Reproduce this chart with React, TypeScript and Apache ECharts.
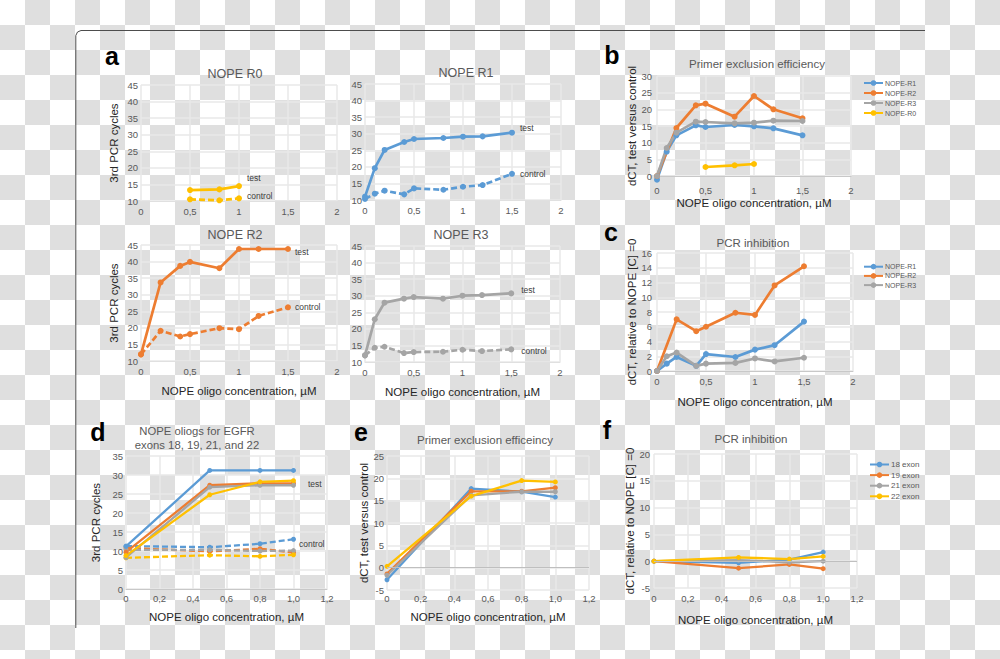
import React, { useEffect, useRef } from 'react';
import * as echarts from 'echarts';

// ---------- data ----------
const xR0 = [0.5, 0.8, 1.0];
const xR1 = [0, 0.1, 0.2, 0.4, 0.5, 0.8, 1.0, 1.2, 1.5];
const xR2 = [0, 0.2, 0.4, 0.5, 0.8, 1.0, 1.2, 1.5];
const xR3 = [0, 0.1, 0.2, 0.4, 0.5, 0.8, 1.0, 1.2, 1.5];
const xExon = [0, 0.5, 0.8, 1.0];

const r0Test = [13.3, 13.5, 14.5];
const r0Control = [10.5, 10.2, 10.8];
const r1Test = [11.0, 19.6, 25.1, 27.5, 28.4, 28.7, 29.1, 29.2, 30.3];
const r1Control = [10.3, 11.9, 12.8, 11.7, 13.5, 13.1, 14.0, 14.5, 17.9];
const r2Test = [12.0, 33.7, 38.7, 39.9, 38.0, 43.8, 43.8, 43.8];
const r2Control = [12.0, 19.1, 17.4, 18.1, 19.9, 19.6, 23.6, 26.2];
const r3Test = [12.0, 22.9, 27.9, 29.1, 29.6, 29.1, 30.0, 30.2, 30.7];
const r3Control = [12.0, 14.3, 14.6, 12.7, 13.0, 13.1, 13.7, 13.3, 13.8];

const bR1 = [-1.1, 7.3, 12.2, 15.2, 14.7, 15.3, 14.9, 14.3, 12.2];
const bR2 = [0, 14.4, 21.2, 21.7, 17.8, 24.0, 20.0, 17.3];
const bR3 = [0, 8.4, 13.0, 16.3, 16.2, 15.8, 16.0, 16.6, 16.5];
const bR0 = [2.7, 3.2, 3.6];

const cR1 = [0, 1.0, 1.9, 0.7, 2.3, 1.9, 2.9, 3.5, 6.7];
const cR2 = [0, 7.0, 5.4, 6.0, 7.9, 7.6, 11.6, 14.2];
const cR3 = [0, 2.0, 2.5, 0.7, 1.0, 1.1, 1.7, 1.3, 1.8];

const dTest18 = [11.2, 31.2, 31.2, 31.2];
const dTest19 = [9.7, 27.3, 27.8, 27.8];
const dTest21 = [8.3, 26.8, 27.3, 27.3];
const dTest22 = [8.8, 24.8, 28.2, 28.5];
const dCtrl18 = [11.3, 11.0, 11.9, 13.1];
const dCtrl19 = [10.8, 9.9, 10.6, 9.6];
const dCtrl21 = [10.3, 10.3, 10.0, 10.1];
const dCtrl22 = [8.2, 8.9, 8.6, 9.0];

const e18 = [-2.7, 17.7, 17.0, 15.8];
const e19 = [-1.4, 17.1, 17.1, 17.9];
const e21 = [-1.7, 16.2, 17.0, 17.0];
const e22 = [0.3, 16.0, 19.5, 19.2];

const f18 = [0, -0.3, 0.3, 1.7];
const f19 = [0, -1.3, -0.6, -1.4];
const f21 = [0, 0.2, -0.2, 0];
const f22 = [0, 0.7, 0.4, 0.9];

const nopeNames = ['NOPE-R1', 'NOPE-R2', 'NOPE-R3', 'NOPE-R0'];
const exonNames = ['18 exon', '19 exon', '21 exon', '22 exon'];
const xName = 'NOPE oligo concentration, \u00b5M';

// ---------- style ----------
const BLUE = '#5B9BD5';
const ORANGE = '#ED7D31';
const GRAY = '#A5A5A5';
const YELLOW = '#FFC000';
const FONT = '"Liberation Sans", Arial, sans-serif';
const GRID_STYLE = { color: '#e9e9e9', width: 1.5 };
const TICK = '#595959';

const grids = [
  { left: 141, top: 85, width: 196, height: 116 }, // R0
  { left: 365, top: 84, width: 196, height: 116 }, // R1
  { left: 141, top: 245, width: 196, height: 116 }, // R2
  { left: 365, top: 246, width: 195, height: 116 }, // R3
  { left: 657, top: 76, width: 194, height: 100 }, // b
  { left: 657, top: 253, width: 196, height: 118 }, // c
  { left: 126, top: 456, width: 201, height: 133 }, // d
  { left: 387, top: 456, width: 202, height: 134 }, // e
  { left: 654, top: 454, width: 203, height: 134 }, // f
];

const fmtR = (v: number) => String(v).replace('.', ',');
const fmtE = (v: number) => (v === 0 ? '0' : v.toFixed(1).replace('.', ','));

function xAxisCfg(i: number, kind: 'R' | 'E', margin: number, name?: string, nameGap?: number, lineColor = '#c8c8c8', lineShow = true) {
  return {
    type: 'value',
    gridIndex: i,
    min: 0,
    max: kind === 'R' ? 2 : 1.2,
    interval: kind === 'R' ? 0.5 : 0.2,
    axisLine: { show: lineShow, onZero: lineShow, lineStyle: { color: lineColor, width: 1 } },
    axisTick: { show: false },
    splitLine: { show: true, lineStyle: GRID_STYLE },
    axisLabel: { fontSize: 9.5, color: TICK, margin, fontFamily: FONT, formatter: kind === 'R' ? fmtR : fmtE },
    name: name || '',
    nameLocation: 'middle',
    nameGap: nameGap || 0,
    nameTextStyle: { fontSize: 11.5, color: '#262626', fontFamily: FONT },
  };
}

function yAxisCfg(i: number, min: number, max: number, interval: number, margin: number, name?: string, nameGap?: number) {
  return {
    type: 'value',
    gridIndex: i,
    min,
    max,
    interval,
    axisLine: { show: false },
    axisTick: { show: false },
    splitLine: { show: true, lineStyle: GRID_STYLE },
    axisLabel: { fontSize: 9.5, color: TICK, margin, fontFamily: FONT },
    name: name || '',
    nameLocation: 'middle',
    nameGap: nameGap || 0,
    nameTextStyle: { fontSize: 11.5, color: '#262626', fontFamily: FONT },
  };
}

function line(
  i: number,
  name: string,
  xs: number[],
  ys: number[],
  color: string,
  opts: { dashed?: boolean; endText?: string; offset?: number[]; distance?: number; width?: number; size?: number; extra?: any } = {}
) {
  const pts: any[] = xs.map((x, k) => [x, ys[k]]);
  if (opts.endText) {
    const last = pts.length - 1;
    pts[last] = {
      value: pts[last],
      label: {
        show: true,
        formatter: opts.endText,
        position: 'right',
        distance: opts.distance ?? 5,
        offset: opts.offset || [0, 0],
        fontSize: 8.5,
        color: '#404040',
        fontFamily: FONT,
      },
    };
  }
  return {
    type: 'line',
    name,
    xAxisIndex: i,
    yAxisIndex: i,
    data: pts,
    symbol: 'circle',
    symbolSize: opts.size ?? 6,
    showSymbol: true,
    clip: false,
    animation: false,
    lineStyle: { color, width: opts.width ?? 2.7, type: opts.dashed ? [6, 3] : 'solid' },
    itemStyle: { color },
    emphasis: { disabled: true },
    ...(opts.extra || {}),
  };
}

const zeroLine = {
  markLine: {
    silent: true,
    symbol: 'none',
    label: { show: false },
    lineStyle: { color: '#bfbfbf', type: 'solid', width: 1 },
    data: [{ yAxis: 0 }],
  },
};

function title(text: string, x: number, y: number, size: number, color = '#595959', bold = false, lineHeight?: number) {
  return {
    text,
    left: x,
    top: y,
    textAlign: 'center',
    textVerticalAlign: 'middle',
    padding: 0,
    itemGap: 0,
    textStyle: {
      fontSize: size,
      color,
      fontWeight: bold ? 'bold' : 'normal',
      fontFamily: FONT,
      lineHeight: lineHeight,
    },
  };
}

function legendCfg(names: string[], left: number, top: number, gap: number, size: number) {
  return {
    data: names,
    orient: 'vertical',
    left,
    top,
    padding: 0,
    itemWidth: 19,
    itemHeight: 7,
    itemGap: gap,
    selectedMode: false,
    textStyle: { fontSize: size, color: '#595959', fontFamily: FONT, padding: [0, 0, 0, -3] },
  };
}

function buildOption() {
  return {
    animation: false,
    backgroundColor: 'transparent',
    textStyle: { fontFamily: FONT },
    title: [
      title('NOPE R0', 235, 74, 12.5),
      title('NOPE R1', 466, 73, 12.5),
      title('NOPE R2', 235, 235, 12.5),
      title('NOPE R3', 461, 235, 12.5),
      title('Primer exclusion efficiency', 757, 64, 11.5),
      title('PCR inhibition', 753, 243, 11.5),
      title('NOPE oliogs for EGFR\nexons 18, 19, 21, and 22', 197, 438, 11.3, '#595959', false, 13.3),
      title('Primer exclusion efficeincy', 485, 440, 11.5),
      title('PCR inhibition', 751, 439, 11.5),
      title('a', 112, 56, 25, '#000', true),
      title('b', 612, 55, 25, '#000', true),
      title('c', 611, 232, 25, '#000', true),
      title('d', 98, 432, 25, '#000', true),
      title('e', 361, 432, 25, '#000', true),
      title('f', 607, 430, 25, '#000', true),
    ],
    legend: [
      legendCfg(nopeNames, 863, 79.5, 3, 7),
      legendCfg(nopeNames.slice(0, 3), 863, 263.2, 2.2, 7),
      legendCfg(exonNames, 869, 460.5, 2.6, 8),
    ],
    grid: grids.map((g) => ({ ...g, containLabel: false, outerBoundsMode: 'none' })),
    xAxis: [
      xAxisCfg(0, 'R', 5, undefined, undefined, '#e0e0e0'),
      xAxisCfg(1, 'R', 5, undefined, undefined, '#e0e0e0'),
      xAxisCfg(2, 'R', 5, xName, 23.5, '#e0e0e0'),
      xAxisCfg(3, 'R', 5, xName, 23.5, '#e0e0e0'),
      xAxisCfg(4, 'R', 9, xName, 21),
      xAxisCfg(5, 'R', 5, xName, 25),
      xAxisCfg(6, 'E', 4, xName, 21.5),
      xAxisCfg(7, 'E', 3.5, xName, 20.5, '#e0e0e0', false),
      xAxisCfg(8, 'E', 5, xName, 25.5, '#e0e0e0', false),
    ],
    yAxis: [
      yAxisCfg(0, 10, 45, 5, 3, '3rd PCR cycles', 21.5),
      yAxisCfg(1, 10, 45, 5, 3),
      yAxisCfg(2, 10, 45, 5, 3, '3rd PCR cycles', 21.5),
      yAxisCfg(3, 10, 45, 5, 3),
      yAxisCfg(4, 0, 30, 5, 5, 'dCT, test versus control', 17.5),
      yAxisCfg(5, 0, 16, 2, 5, 'dCT, relative to NOPE [C] =0', 18),
      yAxisCfg(6, 0, 35, 5, 3, '3rd PCR cycles', 24),
      yAxisCfg(7, -5, 25, 5, 3, 'dCT, test versus control', 12),
      yAxisCfg(8, -5, 20, 5, 4, 'dCT, relative to NOPE [C] =0', 16),
    ],
    series: [
      // a: R0
      line(0, 'R0 control', xR0, r0Control, YELLOW, { dashed: true, endText: 'control', offset: [0, -2] }),
      line(0, 'R0 test', xR0, r0Test, YELLOW, { endText: 'test', offset: [0, -8] }),
      // R1
      line(1, 'R1 control', xR1, r1Control, BLUE, { dashed: true, endText: 'control', offset: [0, 0] }),
      line(1, 'R1 test', xR1, r1Test, BLUE, { endText: 'test', offset: [0, -5] }),
      // R2
      line(2, 'R2 control', xR2, r2Control, ORANGE, { dashed: true, endText: 'control', offset: [-1, 0] }),
      line(2, 'R2 test', xR2, r2Test, ORANGE, { endText: 'test', offset: [-1, 3] }),
      // R3
      line(3, 'R3 control', xR3, r3Control, GRAY, { dashed: true, endText: 'control', offset: [2, 2] }),
      line(3, 'R3 test', xR3, r3Test, GRAY, { endText: 'test', offset: [2, -3] }),
      // b
      line(4, 'NOPE-R1', xR1, bR1, BLUE),
      line(4, 'NOPE-R2', xR2, bR2, ORANGE),
      line(4, 'NOPE-R3', xR3, bR3, GRAY),
      line(4, 'NOPE-R0', xR0, bR0, YELLOW),
      // c
      line(5, 'NOPE-R1', xR1, cR1, BLUE),
      line(5, 'NOPE-R2', xR2, cR2, ORANGE),
      line(5, 'NOPE-R3', xR3, cR3, GRAY),
      // d controls
      line(6, 'd 18 control', xExon, dCtrl18, BLUE, { dashed: true, endText: 'control', offset: [-2, 5], width: 2.3, size: 5 }),
      line(6, 'd 19 control', xExon, dCtrl19, ORANGE, { dashed: true, width: 2.3, size: 5 }),
      line(6, 'd 21 control', xExon, dCtrl21, GRAY, { dashed: true, width: 2.3, size: 5 }),
      line(6, 'd 22 control', xExon, dCtrl22, YELLOW, { dashed: true, width: 2.3, size: 5 }),
      // d tests
      line(6, 'd 18 test', xExon, dTest18, BLUE, { width: 2.3, size: 5 }),
      line(6, 'd 19 test', xExon, dTest19, ORANGE, { width: 2.3, size: 5 }),
      line(6, 'd 21 test', xExon, dTest21, GRAY, { endText: 'test', distance: 12, offset: [0, -1], width: 2.3, size: 5 }),
      line(6, 'd 22 test', xExon, dTest22, YELLOW, { width: 2.3, size: 5 }),
      // e
      line(7, 'e 18', xExon, e18, BLUE, { width: 2.3, size: 5, extra: zeroLine }),
      line(7, 'e 19', xExon, e19, ORANGE, { width: 2.3, size: 5 }),
      line(7, 'e 21', xExon, e21, GRAY, { width: 2.3, size: 5 }),
      line(7, 'e 22', xExon, e22, YELLOW, { width: 2.3, size: 5 }),
      // f
      line(8, '18 exon', xExon, f18, BLUE, { width: 2.3, size: 5, extra: zeroLine }),
      line(8, '19 exon', xExon, f19, ORANGE, { width: 2.3, size: 5 }),
      line(8, '21 exon', xExon, f21, GRAY, { width: 2.3, size: 5 }),
      line(8, '22 exon', xExon, f22, YELLOW, { width: 2.3, size: 5 }),
    ],
    graphic: [
      {
        type: 'polyline',
        silent: true,
        shape: { points: [[925, 30.5], [81, 30.5], [77.5, 32], [75.8, 35.5], [75.8, 628]] },
        style: { stroke: '#4d4d4d', lineWidth: 1, fill: null },
      },
    ],
  };
}

export default function App() {
  const ref = useRef<HTMLDivElement>(null);
  useEffect(() => {
    if (!ref.current) return;
    const chart = echarts.init(ref.current, null, { renderer: 'svg' });
    chart.setOption(buildOption() as any);
    return () => {
      chart.dispose();
    };
  }, []);
  return (
    <div
      style={{
        position: 'absolute',
        left: 0,
        top: 0,
        width: 1000,
        height: 659,
        backgroundColor: '#ffffff',
        backgroundImage: 'repeating-conic-gradient(#dfdfdf 0 25%, #ffffff 0 50%)',
        backgroundSize: '50px 50px',
      }}
    >
      <div ref={ref} style={{ width: 1000, height: 659 }} />
    </div>
  );
}
